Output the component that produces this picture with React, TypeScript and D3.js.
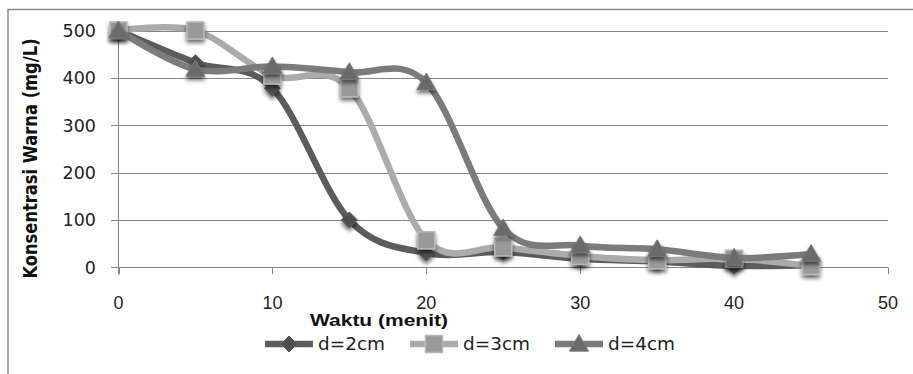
import React from "react";
import * as d3 from "d3";

const times = [0, 5, 10, 15, 20, 25, 30, 35, 40, 45];
const d2cm = [500, 432, 378, 100, 30, 32, 18, 12, 3, 5];
const d3cm = [500, 500, 405, 378, 57, 42, 24, 15, 18, 3];
const d4cm = [500, 418, 424, 412, 390, 82, 46, 38, 20, 28];
const seriesNames = ["d=2cm", "d=3cm", "d=4cm"];
const xTicks = [0, 10, 20, 30, 40, 50];
const yTicks = [0, 100, 200, 300, 400, 500];

const W = 913;
const H = 374;

export default function App() {
  const x = d3.scaleLinear().domain([0, 50]).range([118.5, 888]);
  const y = d3.scaleLinear().domain([0, 500]).range([267.3, 30.5]);
  const line = d3
    .line<number>()
    .x((_, i) => x(times[i]))
    .y((v) => y(v))
    .curve(d3.curveCardinal.tension(0));

  const series = [
    { name: seriesNames[0], data: d2cm, stroke: "#5c5c5c", fill: "#4f4f4f", edge: "#5a5a5a", shape: "diamond" },
    { name: seriesNames[1], data: d3cm, stroke: "#ababab", fill: "#999999", edge: "#b8b8b8", shape: "square" },
    { name: seriesNames[2], data: d4cm, stroke: "#7b7b7b", fill: "#6a6a6a", edge: "#777777", shape: "triangle" },
  ];

  const marker = (shape: string, cx: number, cy: number, fill: string, edge: string, key: string, shadow = true) => {
    const f = shadow ? "url(#shadow)" : undefined;
    if (shape === "diamond") {
      const r = 8;
      return (
        <path key={key} d={`M${cx},${cy - r}L${cx + r},${cy}L${cx},${cy + r}L${cx - r},${cy}Z`} fill={fill} stroke={edge} strokeWidth={1} filter={f} />
      );
    }
    if (shape === "square") {
      const r = 8.5;
      return <rect key={key} x={cx - r} y={cy - r} width={2 * r} height={2 * r} fill={fill} stroke={edge} strokeWidth={1.5} filter={f} />;
    }
    const r = 9.5;
    return (
      <path key={key} d={`M${cx},${cy - r}L${cx + r},${cy + r * 0.75}L${cx - r},${cy + r * 0.75}Z`} fill={fill} stroke={edge} strokeWidth={1} filter={f} />
    );
  };

  const legendItems = [
    { lx: 265, tx: 318 },
    { lx: 410, tx: 463 },
    { lx: 555, tx: 608 },
  ];
  const legendY = 344;
  const narrow = "'Liberation Sans', Arial, sans-serif";

  return (
    <svg width={W} height={H} style={{ position: "absolute", left: 0, top: 0, background: "#fff" }}>
      <defs>
        <filter id="shadow" x="-60%" y="-60%" width="220%" height="220%">
          <feGaussianBlur in="SourceAlpha" stdDeviation="2.2" />
          <feOffset dx="0" dy="3" result="b" />
          <feComponentTransfer>
            <feFuncA type="linear" slope="0.6" />
          </feComponentTransfer>
          <feMerge>
            <feMergeNode />
            <feMergeNode in="SourceGraphic" />
          </feMerge>
        </filter>
      </defs>
      <rect width={W} height={H} fill="#fff" />
      <path d={`M8,${H}V9.5H${W}`} fill="none" stroke="#8a8a8a" strokeWidth={1.5} />

      {/* gridlines */}
      {yTicks.map((t) => (
        <line key={"g" + t} x1={111} x2={888} y1={Math.round(y(t)) + 0.5} y2={Math.round(y(t)) + 0.5} stroke="#868686" strokeWidth={1} />
      ))}
      {/* y axis */}
      <line x1={x(0)} x2={x(0)} y1={y(500)} y2={y(0) + 7} stroke="#868686" strokeWidth={1} />
      {/* x ticks */}
      {xTicks.map((t) => (
        <line key={"xt" + t} x1={Math.round(x(t)) + 0.5} x2={Math.round(x(t)) + 0.5} y1={y(0)} y2={y(0) + 7} stroke="#868686" strokeWidth={1} />
      ))}
      {/* y tick labels */}
      {yTicks.map((t) => (
        <text key={"yl" + t} x={96} y={y(t)} dy="0.36em" textAnchor="end" fontFamily="DejaVu Sans, sans-serif" fontSize={17.5} fill="#222">
          {t}
        </text>
      ))}
      {/* x tick labels */}
      {xTicks.map((t) => (
        <text key={"xl" + t} x={x(t)} y={309} textAnchor="middle" fontFamily={narrow} fontSize={18} fill="#222">
          {t}
        </text>
      ))}
      {/* axis titles */}
      <text
        x={310}
        y={326}
        textLength={138}
        lengthAdjust="spacingAndGlyphs"
        fontFamily={narrow}
        fontWeight="bold"
        fontSize={16.5}
        fill="#111"
      >
        Waktu (menit)
      </text>
      <text
        transform={`translate(37,158.5) rotate(-90) scale(1.02,1.25)`}
        textAnchor="middle"
        fontFamily="DejaVu Sans, sans-serif"
        fontWeight="bold"
        fontSize={16}
        fill="#111"
      >
        Konsentrasi Warna (mg/L)
      </text>

      {/* series */}
      {series.map((s, si) => (
        <g key={"s" + si}>
          <path d={line(s.data) || ""} fill="none" stroke={s.stroke} strokeWidth={6.5} strokeLinejoin="round" strokeLinecap="round" />
          {s.data.map((v, i) => marker(s.shape, x(times[i]), y(v), s.fill, s.edge, `m${si}-${i}`))}
        </g>
      ))}

      {/* legend */}
      {series.map((s, i) => (
        <g key={"lg" + i}>
          <line x1={legendItems[i].lx} x2={legendItems[i].lx + 48} y1={legendY} y2={legendY} stroke={s.stroke} strokeWidth={6.5} />
          {marker(s.shape, legendItems[i].lx + 24, legendY, s.fill, s.edge, "lm" + i, false)}
          <text
            x={legendItems[i].tx}
            y={legendY}
            dy="0.36em"
            textLength={67}
            lengthAdjust="spacingAndGlyphs"
            fontFamily="DejaVu Sans, sans-serif"
            fontSize={18}
            fill="#222"
          >
            {s.name}
          </text>
        </g>
      ))}
    </svg>
  );
}
